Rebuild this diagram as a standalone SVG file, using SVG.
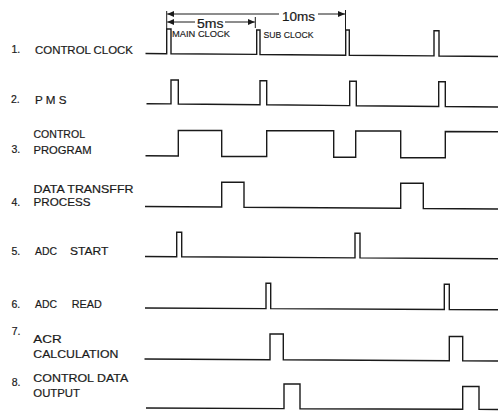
<svg xmlns="http://www.w3.org/2000/svg" width="498" height="415" viewBox="0 0 498 415">
<style>
.sig{fill:none;stroke:#1a1a1a;stroke-width:1.4;stroke-linejoin:miter}
.dim{fill:none;stroke:#1a1a1a;stroke-width:1}
.lbl{font-family:"Liberation Sans",Arial,sans-serif;font-size:11.5px;fill:#1a1a1a;stroke:#1a1a1a;stroke-width:0.2}
.num{font-family:"Liberation Sans",Arial,sans-serif;font-size:10.5px;fill:#1a1a1a;stroke:#1a1a1a;stroke-width:0.2}
.ann{font-family:"Liberation Sans",Arial,sans-serif;font-size:12.5px;fill:#1a1a1a;stroke:#1a1a1a;stroke-width:0.2}
.sm{font-family:"Liberation Sans",Arial,sans-serif;font-size:9px;fill:#1a1a1a;stroke:#1a1a1a;stroke-width:0.15}
</style>
<defs>
<marker id="ah" markerUnits="userSpaceOnUse" markerWidth="8" markerHeight="6" refX="7" refY="3" orient="auto-start-reverse">
<path d="M0,0 L7,3 L0,6 z" fill="#1a1a1a"/>
</marker>
</defs>
<rect width="498" height="415" fill="#ffffff"/>

<g id="connectors">
<line class="dim" x1="166.7" y1="11" x2="166.7" y2="29"/>
<line class="dim" x1="345.5" y1="10" x2="345.5" y2="30"/>
<line class="dim" x1="255.3" y1="17" x2="255.3" y2="28"/>
<line class="dim" x1="167.2" y1="14" x2="279" y2="14" marker-start="url(#ah)"/>
<line class="dim" x1="318" y1="14" x2="345" y2="14" marker-end="url(#ah)"/>
<line class="dim" x1="167.2" y1="22" x2="195" y2="22" marker-start="url(#ah)"/>
<line class="dim" x1="225" y1="22" x2="254.8" y2="22" marker-end="url(#ah)"/>
<text class="ann" x="282" y="20.5" textLength="33" lengthAdjust="spacingAndGlyphs">10ms</text>
<text class="ann" x="197" y="27.5" textLength="26.5" lengthAdjust="spacingAndGlyphs">5ms</text>
<text class="sm" x="172" y="37" textLength="58" lengthAdjust="spacingAndGlyphs">MAIN CLOCK</text>
<text class="sm" x="263.5" y="37.5" textLength="50" lengthAdjust="spacingAndGlyphs">SUB CLOCK</text>
</g>

<g id="row1">
<text class="num" x="11.5" y="53">1.</text>
<text class="lbl" x="35" y="53.5" textLength="98" lengthAdjust="spacingAndGlyphs">CONTROL CLOCK</text>
<polyline class="sig" points="145.5,53.5 166.7,53.7 166.7,29 171,29 171,53.7 256.7,54.4 256.7,30 260,30 260,54.5 345.7,55.2 345.7,30 349.3,30 349.3,55.2 434,55.9 434,30.7 439,30.7 439,56 498,56.5"/>
</g>

<g id="row2">
<text class="num" x="11" y="103">2.</text>
<text class="lbl" x="35" y="103.5" textLength="31.5" lengthAdjust="spacingAndGlyphs">P M S</text>
<polyline class="sig" points="146.5,103.7 171,103.9 171,80 178.3,80 178.3,104 260,104.8 260,80.7 266.7,80.7 266.7,104.8 349.7,105.6 349.7,81.3 356.3,81.3 356.3,105.7 438.7,106.5 438.7,81.7 445.3,81.7 445.3,106.5 498,107"/>
</g>

<g id="row3">
<text class="lbl" x="33.5" y="138" textLength="51.5" lengthAdjust="spacingAndGlyphs">CONTROL</text>
<text class="num" x="11.5" y="153">3.</text>
<text class="lbl" x="33.5" y="153.5" textLength="58" lengthAdjust="spacingAndGlyphs">PROGRAM</text>
<polyline class="sig" points="145.5,155.8 178.3,156 178.3,130.5 221.7,130.5 221.7,156.5 266.7,156.5 266.7,130.8 333.7,130.8 333.7,157.2 355.7,157.2 355.7,131 400.7,131 400.7,157.7 445.3,157.7 445.3,131.5 498,131.7"/>
</g>

<g id="row4">
<text class="lbl" x="33.5" y="193.3" textLength="100" lengthAdjust="spacingAndGlyphs">DATA TRANSFFR</text>
<text class="num" x="11.5" y="206">4.</text>
<text class="lbl" x="33.5" y="206.3" textLength="57" lengthAdjust="spacingAndGlyphs">PROCESS</text>
<polyline class="sig" points="145,206.5 221.7,207 221.7,182.3 244,182.3 244,207.2 400.7,208.3 400.7,183.3 423.3,183.3 423.3,208.5 498,209"/>
</g>

<g id="row5">
<text class="num" x="11.5" y="254.5">5.</text>
<text class="lbl" x="35" y="254.5" textLength="22" lengthAdjust="spacingAndGlyphs">ADC</text>
<text class="lbl" x="70" y="254.5" textLength="38.3" lengthAdjust="spacingAndGlyphs">START</text>
<polyline class="sig" points="145,256.5 176.7,256.7 176.7,232.3 181.7,232.3 181.7,256.7 355,257.9 355,233.3 360,233.3 360,257.9 498,258.8"/>
</g>

<g id="row6">
<text class="num" x="11.5" y="307.5">6.</text>
<text class="lbl" x="35" y="307.5" textLength="22" lengthAdjust="spacingAndGlyphs">ADC</text>
<text class="lbl" x="71.7" y="307.5" textLength="30" lengthAdjust="spacingAndGlyphs">READ</text>
<polyline class="sig" points="145,308 266,308.6 266,283.3 270.7,283.3 270.7,308.6 444.3,309.5 444.3,284.3 449.3,284.3 449.3,309.6 498,309.8"/>
</g>

<g id="row7">
<text class="num" x="11.7" y="335" font-size="9">7.</text>
<text class="lbl" x="33.3" y="343.3" textLength="28.4" lengthAdjust="spacingAndGlyphs">ACR</text>
<text class="lbl" x="33.3" y="358.3" textLength="85" lengthAdjust="spacingAndGlyphs">CALCULATION</text>
<polyline class="sig" points="144.5,359 270,359.7 270,334 283.3,334 283.3,359.8 449.3,360.7 449.3,336.5 462.7,336.5 462.7,360.8 498,361"/>
</g>

<g id="row8">
<text class="num" x="11.7" y="385.5" font-size="12">8.</text>
<text class="lbl" x="33.3" y="381.7" textLength="95" lengthAdjust="spacingAndGlyphs">CONTROL DATA</text>
<text class="lbl" x="33.3" y="396.7" textLength="46.7" lengthAdjust="spacingAndGlyphs">OUTPUT</text>
<polyline class="sig" points="146,408 284,408.6 284,384 300,384 300,408.7 462.7,409.3 462.7,386.5 479,386.5 479,409.4 498,409.5"/>
</g>
</svg>
